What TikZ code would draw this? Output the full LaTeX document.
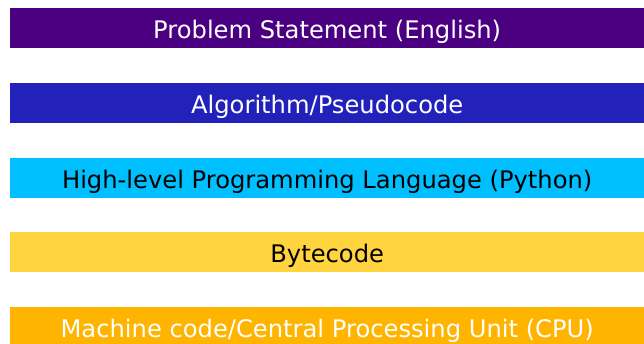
\documentclass[tikz,border=0pt]{standalone}
\usepackage{fontspec}
\setmainfont{DejaVu Sans}
\definecolor{cA}{HTML}{4B0082}
\definecolor{cB}{HTML}{2222BB}
\definecolor{cC}{HTML}{00BFFF}
\definecolor{cD}{HTML}{FFD43F}
\definecolor{cE}{HTML}{FFB400}
\tikzset{
  bar/.style={minimum width=634pt, minimum height=40pt, inner sep=0pt, anchor=north west, text height=20pt, text depth=0pt, font=\fontsize{24.2}{27}\selectfont},
}
\begin{document}
\begin{tikzpicture}[x=1pt,y=-1pt]
\useasboundingbox[fill=white] (0,0) rectangle (644,344);
\node[bar, fill=cA, text=white] (ps) at (10,8) {Problem Statement (English)};
\node[bar, fill=cB, text=white] (alg) at (10,83) {Algorithm/Pseudocode};
\node[bar, fill=cC, text=black] (hl) at (10,158) {High-level Programming Language (Python)};
\node[bar, fill=cD, text=black] (bc) at (10,232) {Bytecode};
\node[bar, fill=cE, text=white] (mc) at (10,307) {Machine code/Central Processing Unit (CPU)};
\end{tikzpicture}
\end{document}
